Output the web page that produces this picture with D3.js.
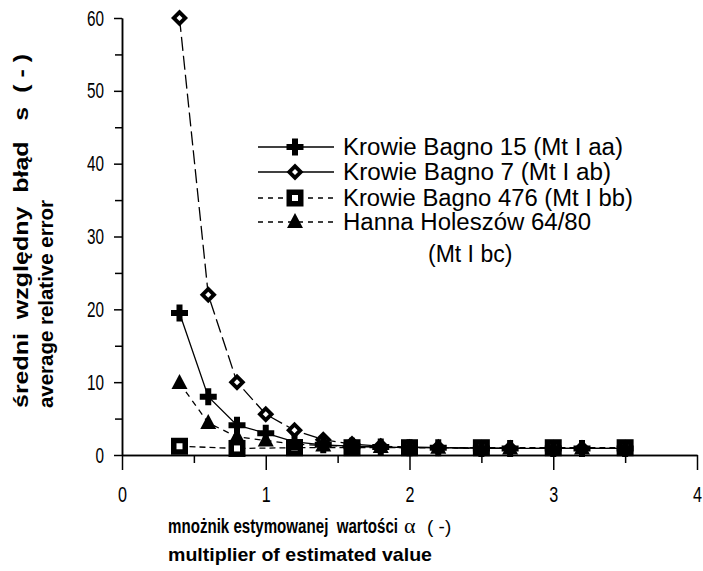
<!DOCTYPE html>
<html>
<head>
<meta charset="utf-8">
<script src="https://cdn.jsdelivr.net/npm/d3@7/dist/d3.min.js"></script>
<style>
  body { margin: 0; background: #fff; }
  text { font-family: "Liberation Sans", Arial, sans-serif; }
</style>
</head>
<body>
<div id="app"></div>
<script>
// data
let xTicks = [0, 1, 2, 3, 4]
let xMinorTicks = [0.5, 1.5, 2.5, 3.5]
let yTicks = [0, 10, 20, 30, 40, 50, 60]
let yMinorTicks = [5, 15, 25, 35, 45, 55]

// Krowie Bagno 15 (Mt I aa) - cross
let kb15X = [0.4, 0.6, 0.8, 1.0, 1.2, 1.4, 1.6, 1.8, 2.0, 2.2, 2.5, 2.7, 3.0, 3.2, 3.5]
let kb15Y = [19.5, 8.0, 4.1, 3.0, 1.8, 1.4, 1.2, 1.1, 1.0, 1.0, 0.9, 0.9, 0.9, 0.9, 0.9]
// Krowie Bagno 7 (Mt I ab) - open diamond
let kb7X = [0.4, 0.6, 0.8, 1.0, 1.2, 1.4, 1.6, 1.8, 2.2, 2.7, 3.2]
let kb7Y = [60, 22, 10, 5.6, 3.4, 2.1, 1.5, 1.2, 1.0, 0.9, 0.9]
// Krowie Bagno 476 (Mt I bb) - open square
let kb476X = [0.4, 0.8, 1.2, 1.6, 2.0, 2.5, 3.0, 3.5]
let kb476Y = [1.2, 0.9, 1.0, 1.0, 1.0, 1.0, 1.0, 1.0]
// Hanna Holeszow 64/80 (Mt I bc) - triangle
let hhX = [0.4, 0.6, 0.8, 1.0, 1.2, 1.4, 1.6, 1.8, 2.0, 2.2, 2.5, 2.7, 3.0, 3.2, 3.5]
let hhY = [9.9, 4.4, 2.5, 2.0, 1.5, 1.3, 1.2, 1.1, 1.0, 1.0, 0.9, 0.9, 0.9, 0.9, 0.9]

let legendLabels = ["Krowie Bagno 15 (Mt I aa)", "Krowie Bagno 7 (Mt I ab)",
                    "Krowie Bagno 476 (Mt I bb)", "Hanna Holeszów 64/80"]

let width = 703
let height = 571

let svg = d3.select("#app").append("svg")
    .attr("width", width)
    .attr("height", height)

let x = d3.scaleLinear().domain([0, 4]).range([122, 697])
let y = d3.scaleLinear().domain([0, 60]).range([455, 18])

// marker shapes
function crossPath(r, t) {
    return `M${-t},${-r}H${t}V${-t}H${r}V${t}H${t}V${r}H${-t}V${t}H${-r}V${-t}H${-t}Z`
}
function diamondPath(r) { return `M0,${-r}L${r},0L0,${r}L${-r},0Z` }
function squarePath(r) { return `M${-r},${-r}H${r}V${r}H${-r}Z` }
function trianglePath(r) { return `M0,${-r - 1}L${r},${r - 2}L${-r},${r - 2}Z` }

let markers = {
    cross: g => g.append("path").attr("d", crossPath(8.5, 3)).attr("fill", "#000"),
    diamond: g => {
        g.append("path").attr("d", diamondPath(8.5)).attr("fill", "#000")
        g.append("path").attr("d", diamondPath(3)).attr("fill", "#fff")
    },
    square: g => {
        g.append("path").attr("d", squarePath(8.5)).attr("fill", "#000")
        g.append("path").attr("d", squarePath(3)).attr("fill", "#fff")
    },
    triangle: g => g.append("path").attr("d", trianglePath(8)).attr("fill", "#000")
}

let series = [
    {name: "kb476", xs: kb476X, ys: kb476Y, marker: "square", dash: "6,4"},
    {name: "kb7", xs: kb7X, ys: kb7Y, marker: "diamond", dash: "14,5"},
    {name: "kb15", xs: kb15X, ys: kb15Y, marker: "cross", dash: null},
    {name: "hh", xs: hhX, ys: hhY, marker: "triangle", dash: "6,5"}
]

// axes
function styleAxis(g) {
    g.selectAll("path, line").attr("stroke", "#000").attr("stroke-width", 1.5)
}

svg.append("g")
    .attr("transform", `translate(0,${y(0)})`)
    .call(d3.axisBottom(x).tickValues(xMinorTicks).tickSize(8).tickSizeOuter(0).tickFormat(""))
    .call(styleAxis)

let gx = svg.append("g")
    .attr("transform", `translate(0,${y(0)})`)
    .call(d3.axisBottom(x).tickValues(xTicks).tickSize(15).tickSizeOuter(0)
        .tickPadding(16).tickFormat(d3.format("d")))
    .call(styleAxis)
gx.selectAll("text")
    .attr("font-size", 22)
    .attr("font-family", "Liberation Sans, Arial, sans-serif")
    .attr("fill", "#000")
    .attr("textLength", 9)
    .attr("lengthAdjust", "spacingAndGlyphs")

svg.append("g")
    .attr("transform", `translate(${x(0)},0)`)
    .call(d3.axisLeft(y).tickValues(yMinorTicks).tickSize(7).tickSizeOuter(0).tickFormat(""))
    .call(styleAxis)

let gy = svg.append("g")
    .attr("transform", `translate(${x(0)},0)`)
    .call(d3.axisLeft(y).tickValues(yTicks).tickSize(8).tickSizeOuter(0).tickPadding(10))
    .call(styleAxis)
gy.selectAll("text")
    .attr("font-size", 22)
    .attr("font-family", "Liberation Sans, Arial, sans-serif")
    .attr("fill", "#000")
    .attr("textLength", d => String(d).length * 8.5)
    .attr("lengthAdjust", "spacingAndGlyphs")

// lines
let line = d3.line().x(d => x(d[0])).y(d => y(d[1]))

series.forEach(s => {
    let pts = s.xs.map((v, i) => [v, s.ys[i]])
    svg.append("path")
        .datum(pts)
        .attr("d", line)
        .attr("fill", "none")
        .attr("stroke", "#000")
        .attr("stroke-width", 1.3)
        .attr("stroke-dasharray", s.dash)
})

// markers: squares under, then diamonds, crosses, triangles
series.forEach(s => {
    let pts = s.xs.map((v, i) => [v, s.ys[i]])
    svg.append("g").selectAll("g")
        .data(pts)
        .enter().append("g")
        .attr("transform", d => `translate(${x(d[0])},${y(d[1])})`)
        .each(function() { markers[s.marker](d3.select(this)) })
})

// legend
let legendRows = [
    {label: legendLabels[0], marker: "cross", dash: null, y: 147},
    {label: legendLabels[1], marker: "diamond", dash: null, y: 172},
    {label: legendLabels[2], marker: "square", dash: "5,5", y: 198},
    {label: legendLabels[3], marker: "triangle", dash: "5,5", y: 222}
]
let legendLengths = [280, 268, 290, 248]

let legend = svg.append("g")
legendRows.forEach((r, i) => {
    legend.append("line")
        .attr("x1", 258).attr("x2", 334)
        .attr("y1", r.y).attr("y2", r.y)
        .attr("stroke", "#000")
        .attr("stroke-width", 1.3)
        .attr("stroke-dasharray", r.dash)
    markers[r.marker](legend.append("g").attr("transform", `translate(295,${r.y})`))
    legend.append("text")
        .attr("x", 343).attr("y", r.y)
        .attr("dy", "0.36em")
        .attr("font-size", 23)
        .attr("textLength", legendLengths[i])
        .attr("lengthAdjust", "spacingAndGlyphs")
        .text(r.label)
})
legend.append("text")
    .attr("x", 428).attr("y", 254)
    .attr("dy", "0.36em")
    .attr("font-size", 23)
    .text("(Mt I bc)")

// axis titles
let xTitle = svg.append("text")
    .attr("x", 168).attr("y", 533)
    .style("white-space", "pre")
xTitle.append("tspan")
    .attr("font-size", 20)
    .attr("font-weight", "bold")
    .attr("textLength", 230)
    .attr("lengthAdjust", "spacingAndGlyphs")
    .text("mnożnik estymowanej  wartości")
xTitle.append("tspan")
    .attr("x", 404)
    .attr("font-size", 22)
    .attr("font-family", "Liberation Serif, serif")
    .text("α")
xTitle.append("tspan")
    .attr("x", 427)
    .attr("font-size", 19)
    .text("( -)")

svg.append("text")
    .attr("x", 168).attr("y", 561)
    .attr("font-size", 19)
    .attr("font-weight", "bold")
    .attr("textLength", 264)
    .attr("lengthAdjust", "spacingAndGlyphs")
    .text("multiplier of estimated value")

svg.append("text")
    .attr("transform", "translate(28,408) rotate(-90)")
    .attr("font-size", 20)
    .attr("font-weight", "bold")
    .attr("textLength", 354)
    .attr("lengthAdjust", "spacingAndGlyphs")
    .style("white-space", "pre")
    .text("średni  względny  błąd   s  ( - )")
svg.append("text")
    .attr("transform", "translate(53,408) rotate(-90)")
    .attr("font-size", 20)
    .attr("font-weight", "bold")
    .attr("textLength", 208)
    .attr("lengthAdjust", "spacingAndGlyphs")
    .text("average relative error")
</script>
</body>
</html>
